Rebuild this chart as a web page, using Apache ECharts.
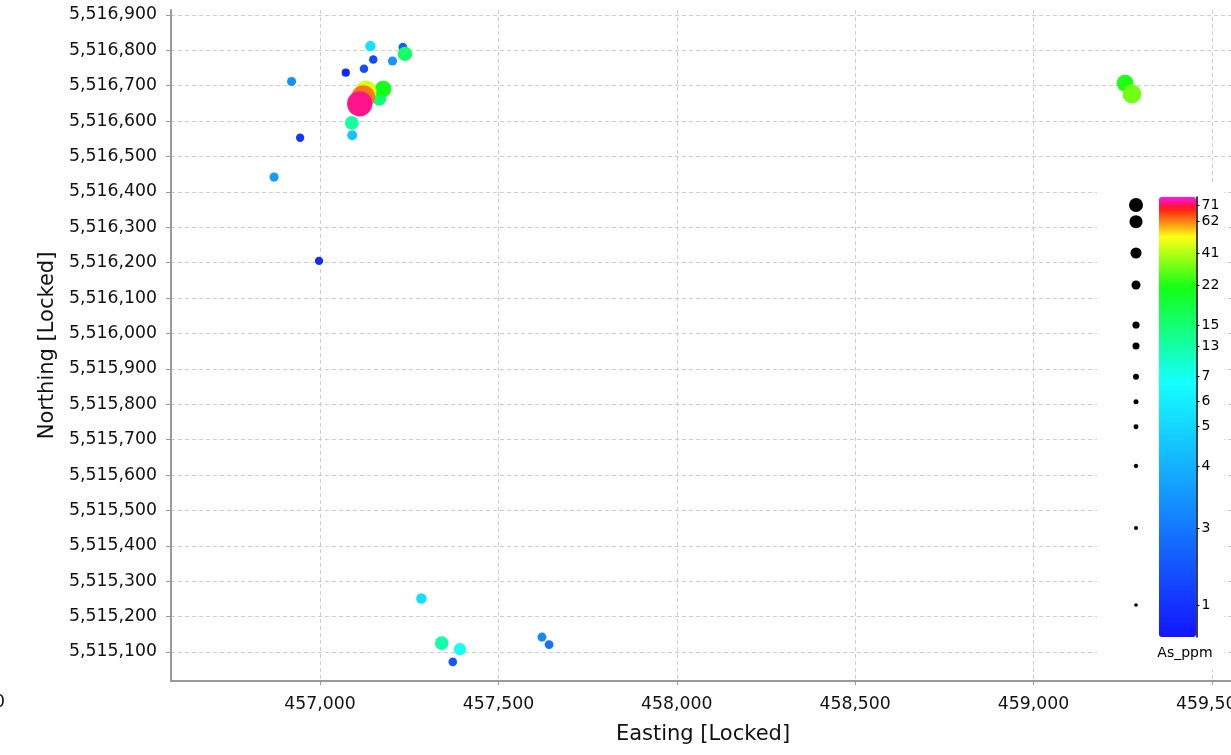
<!DOCTYPE html>
<html><head><meta charset="utf-8">
<script src="https://cdn.jsdelivr.net/npm/echarts@6/dist/echarts.min.js"></script>
<style>html,body{margin:0;padding:0;background:#fff}#c{width:1231px;height:755px}</style>
</head><body><div id="c"></div>
<script>
// ---- data ----
const easting  = [457141, 457232, 457238, 457149, 457203, 457123, 457072, 456920, 457129, 457177, 457121, 457166, 457111, 457089, 457090, 456944, 456871, 456997, 457284, 457341, 457392, 457372, 457622, 457642, 459257, 459276];
const northing = [5516812, 5516809, 5516790, 5516774, 5516770, 5516748, 5516737, 5516712, 5516685, 5516691, 5516668, 5516663, 5516649, 5516595, 5516560, 5516553, 5516442, 5516205, 5515251, 5515125, 5515108, 5515072, 5515142, 5515121, 5516707, 5516677];
const asPpm    = [5.5, 2.2, 16, 1.7, 3.5, 1.8, 0.8, 3.4, 46, 21, 63, 15, 74, 13.2, 4.5, 1.05, 3.6, 0.9, 5.4, 12.6, 7, 2.0, 3.3, 2.8, 22, 33];

const xTickValues = [457000, 457500, 458000, 458500, 459000, 459500];
const yTickValues = [5515100, 5515200, 5515300, 5515400, 5515500, 5515600, 5515700, 5515800, 5515900, 5516000, 5516100, 5516200, 5516300, 5516400, 5516500, 5516600, 5516700, 5516800, 5516900];
const legendValues = [1, 3, 4, 5, 6, 7, 13, 15, 22, 41, 62, 71];

// colour scale: value -> position (0 = bottom, 1 = top of the colour bar)
const scaleValues = [0.5, 1, 3, 4, 5, 6, 7, 13, 15, 22, 41, 62, 71, 80];
const scalePos    = [0, 0.0727, 0.2477, 0.3886, 0.4780, 0.5348, 0.5916, 0.6614, 0.7091, 0.8, 0.8727, 0.9439, 0.9818, 1];

// ---- helpers ----
function interp(x, xs, ys) {
  if (x <= xs[0]) return ys[0];
  for (let i = 1; i < xs.length; i++) {
    if (x <= xs[i]) { const f = (x - xs[i-1]) / (xs[i] - xs[i-1]); return ys[i-1] + f * (ys[i] - ys[i-1]); }
  }
  return ys[ys.length - 1];
}
const posOf = v => interp(v, scaleValues, scalePos);
const hueT = [0, 0.58, 0.796, 0.91, 0.975, 1];
const hueH = [240, 180, 120, 60, 0, -60];
function hsv(h, s, v) {
  h = ((h % 360) + 360) % 360;
  const c = v * s, x = c * (1 - Math.abs((h / 60) % 2 - 1)), m = v - c;
  let r, g, b;
  if (h < 60) [r,g,b] = [c,x,0]; else if (h < 120) [r,g,b] = [x,c,0]; else if (h < 180) [r,g,b] = [0,c,x];
  else if (h < 240) [r,g,b] = [0,x,c]; else if (h < 300) [r,g,b] = [x,0,c]; else [r,g,b] = [c,0,x];
  const hx = n => Math.round((n + m) * 255).toString(16).padStart(2, '0');
  return '#' + hx(r) + hx(g) + hx(b);
}
const colorStops = [];
for (let i = 0; i <= 100; i++) colorStops.push(hsv(interp(i / 100, hueT, hueH), 0.92, 1));
const sizeT = [0, 0.25, 0.39, 0.48, 0.535, 0.59, 0.66, 0.71, 0.80, 0.87, 0.94, 0.98, 1];
const sizeS = [3.5, 4, 4.3, 5, 5, 6, 7, 7.2, 9, 11, 13, 14, 14.5];
const legendSize = t => interp(t, sizeT, sizeS);
const mainSize = t => 1.6 * legendSize(t) + 2.5;

function fmt(v) { return String(Math.round(v)).replace(/\B(?=(\d{3})+(?!\d))/g, ','); }

const order = asPpm.map((v, i) => i).sort((a, b) => asPpm[a] - asPpm[b]);
const mainData = order.map(i => [easting[i], northing[i], asPpm[i], posOf(asPpm[i])]);
const legendPos = legendValues.map(posOf);

const chart = echarts.init(document.getElementById('c'));
const font = 'DejaVu Sans';
chart.setOption({
  animation: false,
  textStyle: { fontFamily: font },
  grid: [
    { left: 171, top: 10, width: 1064, height: 671, outerBoundsMode: 'none', containLabel: false },
    { left: 1159, top: 197, width: 37.5, height: 440, outerBoundsMode: 'none', containLabel: false },
    { left: 1126, top: 197, width: 20, height: 440, outerBoundsMode: 'none', containLabel: false }
  ],
  xAxis: [
    { type: 'value', gridIndex: 0, min: 456582, max: 459565,
      name: 'Easting [Locked]', nameLocation: 'middle', nameGap: 43,
      nameTextStyle: { fontSize: 21, color: '#111' },
      axisLine: { onZero: false, lineStyle: { color: '#999', width: 2 } },
      axisTick: { customValues: xTickValues, length: 4, lineStyle: { color: '#999' } },
      axisLabel: { customValues: xTickValues, fontSize: 17.3, margin: 15, color: '#111', formatter: fmt },
      splitLine: { show: true, lineStyle: { type: [4, 3], color: '#cccccc' } } },
    { type: 'value', gridIndex: 1, min: 0, max: 1, show: false },
    { type: 'category', gridIndex: 2, data: ['s'], show: false }
  ],
  yAxis: [
    { type: 'value', gridIndex: 0, min: 5515018, max: 5516914,
      name: 'Northing [Locked]', nameLocation: 'middle', nameGap: 110,
      nameTextStyle: { fontSize: 21, color: '#111' },
      axisLine: { show: true, onZero: false, lineStyle: { color: '#999', width: 2 } },
      axisTick: { show: true, customValues: yTickValues, length: 5, lineStyle: { color: '#999' } },
      axisLabel: { customValues: yTickValues, fontSize: 17.3, margin: 14, color: '#111', formatter: fmt, padding: [4, 0, 0, 0] },
      splitLine: { show: true, lineStyle: { type: [4, 3], color: '#cccccc' } } },
    { type: 'value', gridIndex: 1, min: 0, max: 1, position: 'right', z: 6,
      axisLine: { show: true, onZero: false, lineStyle: { color: '#000', width: 1.5 } },
      axisTick: { show: true, customValues: legendPos, length: 3, lineStyle: { color: '#000' } },
      axisLabel: { customValues: legendPos, fontSize: 14, margin: 5, color: '#000',
        formatter: val => { let b = 0; legendPos.forEach((p, i) => { if (Math.abs(p - val) < Math.abs(legendPos[b] - val)) b = i; }); return String(legendValues[b]); } },
      splitLine: { show: false } },
    { type: 'value', gridIndex: 2, min: 0, max: 1, show: false }
  ],
  visualMap: {
    type: 'continuous', seriesIndex: 0, dimension: 3, min: 0, max: 1,
    calculable: false, hoverLink: false, orient: 'vertical',
    left: 1159, top: 197, itemWidth: 37, itemHeight: 440, padding: 0,
    inRange: { color: colorStops }, z: 5
  },
  graphic: { elements: [
    { type: 'rect', z: 1, shape: { x: 1097, y: 184, width: 127, height: 486 }, style: { fill: '#fff' } },
    { type: 'text', z: 10, x: 1185, y: 653, style: { text: 'As_ppm', font: '14px "DejaVu Sans"', fill: '#000', align: 'center', verticalAlign: 'middle' } },
    { type: 'text', z: 10, x: 5, y: 703, style: { text: '456,500', font: '17.3px "DejaVu Sans"', fill: '#111', align: 'right', verticalAlign: 'middle' } }
  ] },
  series: [
    { type: 'scatter', xAxisIndex: 0, yAxisIndex: 0, data: mainData,
      symbolSize: d => mainSize(d[3]), itemStyle: { opacity: 1 }, z: 3 },
    { type: 'scatter', xAxisIndex: 2, yAxisIndex: 2, z: 6,
      data: legendPos.map(p => ['s', p]), symbolSize: d => legendSize(d[1]),
      itemStyle: { color: '#000', opacity: 1 } }
  ]
});
</script></body></html>
